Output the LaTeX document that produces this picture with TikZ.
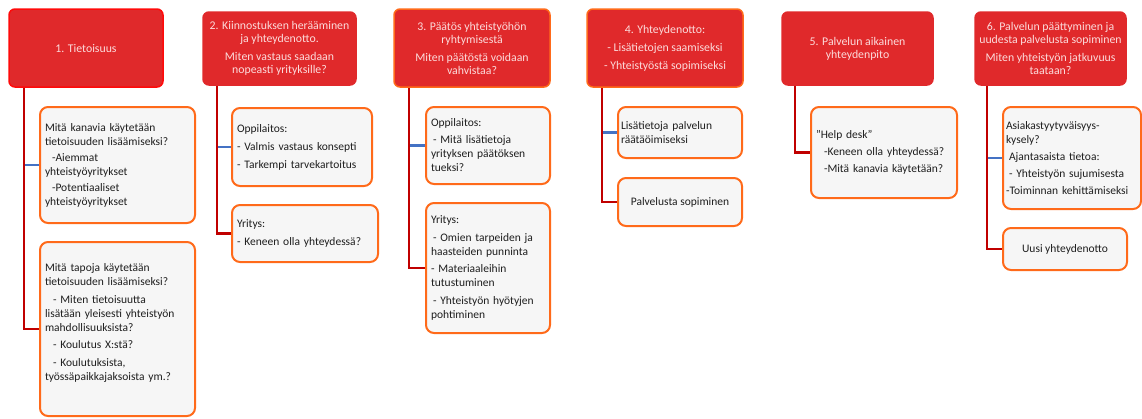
\documentclass[tikz,border=0pt]{standalone}
\usepackage{fontspec}
\setmainfont{Carlito}
\definecolor{headred}{RGB}{224,41,43}
\definecolor{headtext}{RGB}{252,220,220}
\definecolor{brightred}{RGB}{255,10,10}
\definecolor{edgeorange}{RGB}{255,106,26}
\definecolor{boxfill}{RGB}{246,246,246}
\definecolor{boxtext}{RGB}{30,30,30}
\definecolor{linkred}{RGB}{192,0,0}
\definecolor{linkblue}{RGB}{68,114,196}
\begin{document}
\begin{tikzpicture}[x=1pt,y=-1pt,
  head/.style={rectangle, rounded corners=6pt, fill=headred, draw=headred,
    line width=1.5pt, text=headtext, align=center,
    font=\fontsize{11.8}{13}\selectfont, inner sep=2pt},
  box/.style={rectangle, rounded corners=8pt, fill=boxfill, draw=edgeorange,
    line width=2pt, text=boxtext, font=\fontsize{11.5}{14}\selectfont,
    inner xsep=5pt, inner ysep=2pt},
  link/.style={draw=linkred, line width=2.2pt},
  sublink/.style={draw=linkblue, line width=2.2pt}]
\useasboundingbox (0,0) rectangle (1142,418);

% ---- stage headers ----
\node[head, draw=brightred, minimum width=154pt, minimum height=78pt] (H1) at (86,48)
  {1. Tietoisuus};
\node[head, minimum width=153pt, minimum height=73pt] (H2) at (279.5,48.5)
  {2. Kiinnostuksen herääminen\\ ja yhteydenotto.\\[5pt] Miten vastaus saadaan\\ nopeasti yrityksille?};
\node[head, draw=edgeorange, minimum width=156pt, minimum height=78pt] (H3) at (472,48)
  {3. Päätös yhteistyöhön\\ ryhtymisestä\\[5pt] Miten päätöstä voidaan\\ vahvistaa?};
\node[head, draw=edgeorange, minimum width=156pt, minimum height=78pt] (H4) at (665,48)
  {4. Yhteydenotto:\\[5pt] - Lisätietojen saamiseksi\\[5pt] - Yhteistyöstä sopimiseksi};
\node[head, minimum width=151pt, minimum height=73pt] (H5) at (857.5,48.5)
  {5. Palvelun aikainen\\ yhteydenpito};
\node[head, minimum width=151pt, minimum height=73pt] (H6) at (1050.5,48.5)
  {6. Palvelun päättyminen ja\\ uudesta palvelusta sopiminen\\[5pt] Miten yhteistyön jatkuvuus\\ taataan?};

% ---- detail boxes ----
\node[box, minimum width=155pt, minimum height=116pt, text width=145pt, align=left] (B1a) at (117.5,165)
  {Mitä kanavia käytetään\\ tietoisuuden lisäämiseksi?\\[2pt]
   \hspace*{7pt}-Aiemmat\\ yhteistyöyritykset\\[2pt]
   \hspace*{7pt}-Potentiaaliset\\ yhteistyöyritykset};
\node[box, minimum width=155pt, minimum height=174pt, text width=145pt, align=left] (B1b) at (117.5,329)
  {Mitä tapoja käytetään\\ tietoisuuden lisäämiseksi?\\[3.5pt]
   \hspace*{8pt}- Miten tietoisuutta\\ lisätään yleisesti yhteistyön\\ mahdollisuuksista?\\[3.5pt]
   \hspace*{8pt}- Koulutus X:stä?\\[3.5pt]
   \hspace*{8pt}- Koulutuksista,\\ työssäpaikkajaksoista ym.?\\[0pt]\mbox{}};
\node[box, minimum width=140pt, minimum height=78pt, text width=130pt, align=left] (B2a) at (302,147)
  {Oppilaitos:\\[4pt] - Valmis vastaus konsepti\\[4pt] - Tarkempi tarvekartoitus};
\node[box, minimum width=146pt, minimum height=57pt, text width=136pt, align=left] (B2b) at (305,233.5)
  {Yritys:\\[4pt] - Keneen olla yhteydessä?};
\node[box, minimum width=124pt, minimum height=77pt, text width=114pt, align=left] (B3a) at (488,145.5)
  {Oppilaitos:\\[3pt] \hspace*{2pt}- Mitä lisätietoja\\ yrityksen päätöksen\\ tueksi?};
\node[box, minimum width=124pt, minimum height=130pt, text width=114pt, align=left] (B3b) at (488,268)
  {Yritys:\\[3.5pt] \hspace*{2pt}- Omien tarpeiden ja\\ haasteiden punninta\\[3.5pt]
   - Materiaaleihin\\ tutustuminen\\[3.5pt]
   \hspace*{2pt}- Yhteistyön hyötyjen\\ pohtiminen};
\node[box, minimum width=124pt, minimum height=51pt, text width=118pt, inner xsep=3pt, align=left] (B4a) at (680,132.5)
  {Lisätietoja palvelun\\ räätäöimiseksi};
\node[box, minimum width=124pt, minimum height=48pt, align=center] (B4b) at (680,202)
  {Palvelusta sopiminen};
\node[box, minimum width=146pt, minimum height=91pt, text width=136pt, align=left] (B5) at (884,152.5)
  {"Help desk"\\[3pt] \hspace*{8pt}-Keneen olla yhteydessä?\\[3pt] \hspace*{8pt}-Mitä kanavia käytetään?};
\node[box, minimum width=138pt, minimum height=102pt, text width=132pt, inner xsep=3pt, align=left] (B6a) at (1072,158)
  {Asiakastyytyväisyys-\\ kysely?\\[3pt] \hspace*{3pt}Ajantasaista tietoa:\\[3pt]
   \hspace*{3pt}- Yhteistyön sujumisesta\\[3pt] -Toiminnan kehittämiseksi};
\node[box, minimum width=124pt, minimum height=42pt, align=center] (B6b) at (1065,249)
  {Uusi yhteydenotto};

% ---- connectors: trunk from each header, branches to its boxes ----
\coordinate (T1) at ([xshift=16pt]H1.south west);
\coordinate (T2) at ([xshift=15pt]H2.south west);
\coordinate (T3) at ([xshift=16pt]H3.south west);
\coordinate (T4) at ([xshift=16pt]H4.south west);
\coordinate (T5) at ([xshift=14pt]H5.south west);
\coordinate (T6) at ([xshift=13pt]H6.south west);

\draw[sublink] (T1 |- B1a.west) -- (B1a.west);
\draw[sublink] (T2 |- B2a.west) -- (B2a.west);
\draw[sublink] (T3 |- B3a.west) -- (B3a.west);
\draw[sublink] (T4 |- B4a.west) -- (B4a.west);
\draw[sublink] (T6 |- B6a.west) -- (B6a.west);

\draw[link] (T1) |- (B1b.west);
\draw[link] (T2) |- (B2b.west);
\draw[link] (T3) |- (B3b.west);
\draw[link] (T4) |- (B4b.west);
\draw[link] (T5) |- (B5.west);
\draw[link] (T6) |- (B6b.west);
\end{tikzpicture}
\end{document}
